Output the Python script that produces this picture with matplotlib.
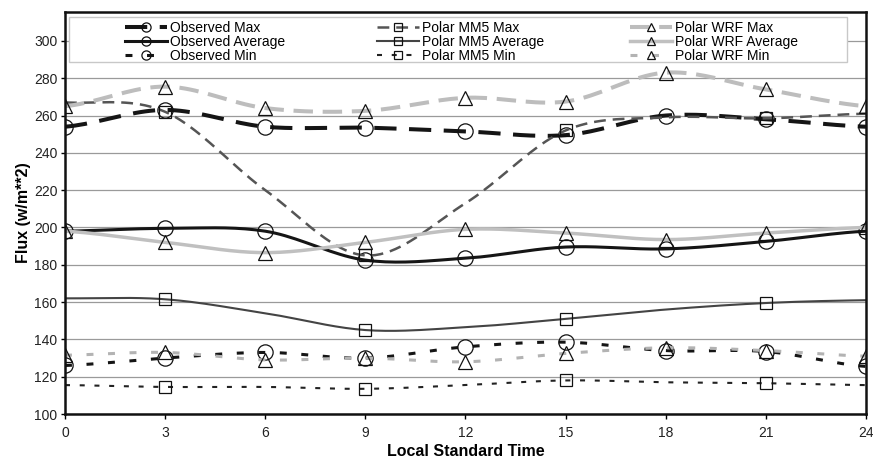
import numpy as np
import matplotlib
matplotlib.use('Agg')
import matplotlib.pyplot as plt
from matplotlib.patches import Rectangle

plt.rcParams['font.family'] = ['Liberation Sans', 'DejaVu Sans']
plt.rcParams['lines.scale_dashes'] = False

horas = [0, 3, 6, 9, 12, 15, 18, 21, 24]

obs_max = [254, 263, 254, 253.5, 251.5, 249.5, 260, 258, 254]
obs_avg = [198, 199.5, 198, 182.5, 183.5, 189.5, 188.5, 192.5, 198]
obs_min = [126, 130, 133, 130, 136, 138.5, 134, 133.5, 125.5]

mm5_max = [267, 262, 220, 185, 213, 252, 259, 258.5, 261]
mm5_avg = [162, 161.5, 154, 145, 146.5, 151, 156, 159.5, 161]
mm5_min = [115.5, 114.5, 114.5, 113.5, 115.5, 118, 117, 116.5, 115.5]

wrf_max = [265, 275.5, 264, 262.5, 269.5, 267.5, 283, 274, 265]
wrf_avg = [198, 192, 186.5, 192, 199, 197, 193.5, 197, 200]
wrf_min = [131.5, 133, 129, 130, 128, 132.5, 135.5, 134, 131]

etiquetas = ['Observed Max', 'Observed Average', 'Observed Min',
             'Polar MM5 Max', 'Polar MM5 Average', 'Polar MM5 Min',
             'Polar WRF Max', 'Polar WRF Average', 'Polar WRF Min']

N = 20  # pasos por tramo para la curva suavizada


def suavizar(x, y, n=N):
    # curva tipo Catmull-Rom (como el "smoothed line" de Excel)
    x = np.asarray(x, float)
    y = np.asarray(y, float)
    m = np.zeros_like(y)
    m[1:-1] = (y[2:] - y[:-2]) / 2
    m[0] = (y[1] - y[0]) / 2
    m[-1] = (y[-1] - y[-2]) / 2
    t = np.linspace(0, 1, n, endpoint=False)
    h00 = 2*t**3 - 3*t**2 + 1
    h10 = t**3 - 2*t**2 + t
    h01 = -2*t**3 + 3*t**2
    h11 = t**3 - t**2
    xs, ys = [], []
    for i in range(len(x) - 1):
        xs.append(x[i] + t*(x[i+1] - x[i]))
        ys.append(h00*y[i] + h10*m[i] + h01*y[i+1] + h11*m[i+1])
    xs.append([x[-1]])
    ys.append([y[-1]])
    return np.concatenate(xs), np.concatenate(ys)


fig = plt.figure(figsize=(8.73, 4.63), dpi=100)
ax = fig.add_axes([65/873, 49/463, 801/873, 402/463])

estilos = [
    # datos, color, grosor, dashes, marcador, tamaño, markevery
    (obs_max, '#151515', 2.9, (16, 9), 'o', 11, slice(0, None, N)),
    (obs_avg, '#151515', 2.2, None, 'o', 11, slice(0, None, N)),
    (obs_min, '#151515', 2.2, (5, 10.5), 'o', 11, slice(0, None, N)),
    (mm5_max, '#555555', 1.8, (8.5, 5), 's', 8.5, slice(N, None, 2*N)),
    (mm5_avg, '#444444', 1.5, None, 's', 8.5, slice(N, None, 2*N)),
    (mm5_min, '#222222', 1.5, (3.6, 7), 's', 8.5, slice(N, None, 2*N)),
    (wrf_max, '#bdbdbd', 2.9, (14, 7), '^', 9.5, slice(0, None, N)),
    (wrf_avg, '#c0c0c0', 2.5, None, '^', 9.5, slice(0, None, N)),
    (wrf_min, '#b3b3b3', 2.2, (5, 10.5), '^', 9.5, slice(0, None, N)),
]

lineas = []
for (datos, color, lw, dashes, mk, ms, cada), nombre in zip(estilos, etiquetas):
    xs, ys = suavizar(horas, datos)
    ln, = ax.plot(xs, ys, color=color, lw=lw, marker=mk, ms=ms, markevery=cada,
                  mfc='none', mec='#111111', mew=0.9, label=nombre)
    if dashes:
        ln.set_dashes(dashes)
    lineas.append(ln)

ax.set_xlim(0, 24)
ax.set_ylim(100, 315.5)
ax.set_xticks(horas)
ax.set_yticks(range(100, 301, 20))
ax.yaxis.grid(True, color='#9a9a9a', lw=0.9)
ax.set_axisbelow(True)
for s in ax.spines.values():
    s.set_linewidth(1.8)
    s.set_color('#111111')
ax.tick_params(axis='y', length=3, width=1, pad=2.5, labelsize=10, labelcolor='#222222')
ax.tick_params(axis='x', length=3.5, width=1, pad=5, labelsize=10, labelcolor='#222222')
ax.set_xlabel('Local Standard Time', fontsize=11.5, fontweight='bold', labelpad=3)
ax.set_ylabel('Flux (w/m**2)', fontsize=11.5, fontweight='bold', labelpad=2)

# marco de la leyenda
ax.add_patch(Rectangle((69/873, (463-62)/463), 778/873, 45/463, transform=fig.transFigure,
                       facecolor='white', edgecolor='#c8c8c8', lw=1, zorder=4))

for k, x0 in enumerate([125, 377, 630]):
    leg = ax.legend(handles=lineas[3*k:3*k+3], loc='upper left',
                    bbox_to_anchor=(x0/873, (463-21)/463), bbox_transform=fig.transFigure,
                    frameon=False, fontsize=10, handlelength=3, handletextpad=0.25,
                    labelspacing=0.0, borderpad=0, borderaxespad=0, numpoints=1,
                    markerscale=0.6)
    ax.add_artist(leg)
ax.legend_ = None

fig.savefig('out.png', dpi=100)
